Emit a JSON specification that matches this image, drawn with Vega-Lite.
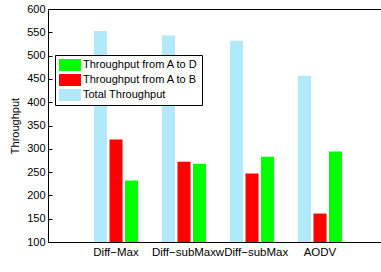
{
  "$schema": "https://vega.github.io/schema/vega-lite/v6.json",
  "width": 340,
  "height": 233,
  "autosize": {"type": "none"},
  "padding": {"left": 48, "top": 9, "right": 0, "bottom": 30},
  "background": "white",
  "config": {
    "font": "Liberation Sans",
    "view": {"stroke": "black", "strokeWidth": 1}
  },
  "data": {
    "values": [
      {"group": "Diff−Max", "series": "Total Throughput", "value": 553},
      {"group": "Diff−Max", "series": "Throughput from A to B", "value": 320},
      {"group": "Diff−Max", "series": "Throughput from A to D", "value": 232},
      {"group": "Diff−subMax", "series": "Total Throughput", "value": 543},
      {"group": "Diff−subMax", "series": "Throughput from A to B", "value": 272},
      {"group": "Diff−subMax", "series": "Throughput from A to D", "value": 268},
      {"group": "wDiff−subMax", "series": "Total Throughput", "value": 532},
      {"group": "wDiff−subMax", "series": "Throughput from A to B", "value": 247},
      {"group": "wDiff−subMax", "series": "Throughput from A to D", "value": 283},
      {"group": "AODV", "series": "Total Throughput", "value": 457},
      {"group": "AODV", "series": "Throughput from A to B", "value": 161},
      {"group": "AODV", "series": "Throughput from A to D", "value": 294}
    ]
  },
  "mark": {"type": "bar", "stroke": null},
  "encoding": {
    "x": {
      "field": "group",
      "type": "nominal",
      "sort": ["Diff−Max", "Diff−subMax", "wDiff−subMax", "AODV"],
      "scale": {"paddingInner": 0, "paddingOuter": 0.5},
      "axis": {
        "title": null,
        "labelAngle": 0,
        "labelFontSize": 11.5,
        "labelColor": "black",
        "labelOverlap": false,
        "labelPadding": 4,
        "ticks": false,
        "domainColor": "black",
        "domainWidth": 1,
        "grid": false
      }
    },
    "xOffset": {
      "field": "series",
      "type": "nominal",
      "sort": ["Total Throughput", "Throughput from A to B", "Throughput from A to D"],
      "scale": {"paddingInner": 0.16, "paddingOuter": 0.77}
    },
    "y": {
      "field": "value",
      "type": "quantitative",
      "scale": {"domain": [100, 600], "zero": false, "nice": false},
      "axis": {
        "title": "Throughput",
        "titleFontSize": 11,
        "titleFontWeight": "normal",
        "titleColor": "black",
        "titlePadding": 6,
        "values": [100, 150, 200, 250, 300, 350, 400, 450, 500, 550, 600],
        "labelFontSize": 11,
        "labelColor": "black",
        "labelPadding": 7,
        "tickSize": -4,
        "tickColor": "black",
        "domainColor": "black",
        "domainWidth": 1,
        "grid": false
      }
    },
    "y2": {"datum": 100},
    "color": {
      "field": "series",
      "type": "nominal",
      "scale": {
        "domain": ["Throughput from A to D", "Throughput from A to B", "Total Throughput"],
        "range": ["#00ff00", "#ff0000", "#b0e9f9"]
      },
      "legend": {
        "title": null,
        "orient": "none",
        "legendX": 7,
        "legendY": 46,
        "fillColor": "white",
        "strokeColor": "black",
        "padding": 4,
        "symbolType": "M-1,-1H2.667V1H-1Z",
        "symbolSize": 144,
        "symbolStrokeWidth": 0,
        "symbolOpacity": 1,
        "labelFontSize": 11,
        "labelColor": "black",
        "labelOffset": 12,
        "rowPadding": 3
      }
    }
  }
}
